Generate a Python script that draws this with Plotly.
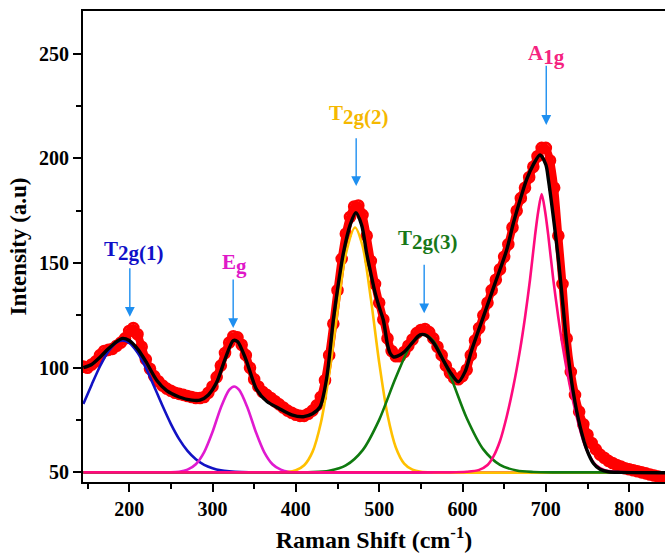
import plotly.graph_objects as go

# ---- measured spectrum (red circles) ----
data_x = [145,150,155,160,165,170,175,180,185,190,195,200,205,210,215,220,225,230,235,240,
          245,250,255,260,265,270,275,280,285,290,295,300,305,310,315,320,325,330,335,340,
          345,350,355,360,365,370,375,380,385,390,395,400,405,410,415,420,425,430,435,440,
          445,450,455,460,465,470,475,480,485,490,495,500,505,510,515,520,525,530,535,540,
          545,550,555,560,565,570,575,580,585,590,595,600,605,610,615,620,625,630,635,640,
          645,650,655,660,665,670,675,680,685,690,695,700,705,710,715,720,725,730,735,740,
          745,750,755,760,765,770,775,780,785,790,795,800,805,810,815,820,825,830,835,840,845]
data_y = [100.5,100,101.5,103,106,108,108.5,109,110.5,112,114,117.5,119,116,110,104,99.5,96,93.5,91.5,
          90,89,88,87.5,87,86.5,86,85.5,85.5,86,88,91,95.5,101,107,112,115,114.5,111,106,
          100,94.5,91,88.5,87,85.5,84,82.5,81,79.5,78.5,77.5,77,77,78,79.5,82,86,94,106,
          121,137,152,164,172,177,177.5,173,163,151,140,131,123,114,108,105.5,105.5,107.5,110.5,113.5,
          116.5,118,118.5,117,114,110,106,101,97.5,95,94.5,96,99,106,113,119,125,131,137,142,
          147,153,159,167,175,181,186,191,196,201,205,205,199,186,163,140,114,98,87,79,
          73,68,64,61,58.5,57,55.5,54.5,53.5,52.8,52,51.5,51,50.5,50,49.5,49,48.5,48,47.5,47]

# ---- cumulative fit (black) ----
fit_x = [145,155,165,175,185,192,200,210,220,233,245,260,275,285,295,305,315,325,330,340,
         353,365,380,395,409,420,429,437,445,451,457,465,472,479,485,490,495,500,505,510,
         513,517,522,530,540,549,556,565,575,585,595,603,611,625,639,653,661,669,677,685,
         693,700,703,709,715,720,725,733,741,749,757,765,775,790,845]
fit_y = [100,101.5,105,109,112.5,114,113,109,103,94,89,86,84.5,84.5,87,93,104,113,112.5,104,
         89.5,84,80.5,77.5,76.6,78,81.3,95,122.8,140,154.6,168,174,168,154.6,145,136,129,122.8,111,
         107,105.2,105.5,107.5,112,115.7,115.5,112,105,98,93.3,98,108.4,124.3,140.3,156.2,169,180,190,197,
         201.6,197,190,172,152,132,112,88,72,61,54.4,51.5,50.3,50,49.8]

# ---- fitted components ----
t2g1_x = [145,155,165,175,185,192,200,210,220,230,240,250,260,270,280,290,300,310,320,335,350,845]
t2g1_y = [82.7,91.9,100.7,107.8,112.1,113,111.8,107.2,99.9,91.0,81.8,73.2,65.9,60.3,56.3,53.6,52.0,51.0,50.5,50.1,50,50]

eg_x = [145,250,260,270,280,290,300,310,320,326,332,342,352,362,372,382,392,410,845]
eg_y = [50,50,50.3,51.3,53.9,59.7,69.3,80.9,89.4,91,89.4,80.9,69.3,59.7,53.9,51.3,50.3,50,50]

t2g2_x = [145,370,390,400,410,420,430,440,450,460,471,480,490,500,510,520,530,540,550,565,845]
t2g2_y = [50,50,50.2,51.0,53.4,59.8,73.6,96.9,126.9,154.3,167,158.3,133.0,102.5,77.5,61.9,54.2,51.3,50.3,50,50]

t2g3_x = [145,400,420,440,460,480,500,520,540,553,565,585,605,625,645,665,685,710,845]
t2g3_y = [50,50,50.1,50.8,53.3,60.5,75.1,95.3,112.3,116,112.8,96.4,76.0,61.0,53.6,50.9,50.2,50,50]

a1g_x = [145,585,605,620,630,637,645,653,661,669,675,681,687,691,695,699,703,709,715,721,
         729,737,745,753,760,770,785,805,845]
a1g_y = [50,50,50.3,51.2,53.5,57.5,65,76.6,91,108.4,124,142,163,175,183,175,163,142,124,108.4,
         91,76.6,65,57.5,53.5,51.2,50.3,50,50]

# ---- peak labels and arrows ----
lab_text = ["T", "E", "T", "T", "A"]
lab_sub = ["2g(1)", "g", "2g(2)", "2g(3)", "1g"]
lab_color = ["#1010C8", "#E018C8", "#F5B800", "#187818", "#F5237F"]
lab_x = [205.6, 325.9, 476.3, 559.1, 700.7]
lab_y = [155.7, 149.5, 220.7, 161.2, 249.6]
arr_x = [200.8, 324.8, 472.4, 554.0, 700.5]
arr_top = [148.2, 142.8, 210.3, 149.9, 245.0]
arr_tip = [124.3, 119.0, 186.8, 126.0, 216.0]

x_ticks = [200, 300, 400, 500, 600, 700, 800]
y_ticks = [50, 100, 150, 200, 250]

FONT = "Liberation Serif"

fig = go.Figure()

fig.add_trace(go.Scatter(
    x=data_x, y=data_y, mode="lines+markers",
    line=dict(color="#FF0000", width=8, shape="spline", smoothing=0.6),
    marker=dict(symbol="circle-open", size=10, color="#FF0000", line=dict(width=2.6, color="#FF0000")),
    showlegend=False, hoverinfo="skip"))

comp = [(t2g1_x, t2g1_y, "#1212C4"), (eg_x, eg_y, "#E01AD0"), (t2g2_x, t2g2_y, "#FFC000"),
        (t2g3_x, t2g3_y, "#0F7A0F"), (a1g_x, a1g_y, "#FF0A7D")]
for cx, cy, col in comp:
    fig.add_trace(go.Scatter(x=cx, y=cy, mode="lines", line=dict(color=col, width=2.6, shape="spline", smoothing=0.8),
                             showlegend=False, hoverinfo="skip"))

fig.add_trace(go.Scatter(x=fit_x, y=fit_y, mode="lines",
                         line=dict(color="black", width=3.4, shape="spline", smoothing=0.8),
                         showlegend=False, hoverinfo="skip"))

for t, s, c, lx, ly in zip(lab_text, lab_sub, lab_color, lab_x, lab_y):
    fig.add_annotation(x=lx, y=ly, xref="x", yref="y", showarrow=False,
                       text=f"<b>{t}<sub><span style='font-size:21px'>{s}</span></sub></b>",
                       font=dict(family=FONT, size=21, color=c), xanchor="center", yanchor="middle")

for ax_, top, tip in zip(arr_x, arr_top, arr_tip):
    fig.add_annotation(x=ax_, y=tip, ax=ax_, ay=top, xref="x", yref="y", axref="x", ayref="y",
                       text="", showarrow=True, arrowhead=2, arrowsize=1.4, arrowwidth=1.4,
                       arrowcolor="#1E8FF0", standoff=0)

fig.update_layout(
    width=665, height=559,
    margin=dict(l=83, r=0, t=11, b=77),
    plot_bgcolor="white", paper_bgcolor="white",
    showlegend=False,
)
fig.update_xaxes(
    range=[144.6, 843], tickmode="array", tickvals=x_ticks, ticktext=[str(v) for v in x_ticks],
    showgrid=False, zeroline=False, showline=True, linewidth=2, linecolor="black", mirror=True,
    ticks="outside", ticklen=8, tickwidth=2, tickcolor="black",
    minor=dict(dtick=50, tick0=0, ticks="outside", ticklen=5, tickwidth=2, tickcolor="black"),
    tickfont=dict(family=FONT, size=20, color="black", weight="bold"),
    title=dict(text="Raman Shift (cm<sup>-1</sup>)", font=dict(family=FONT, size=24, color="black", weight="bold"),
               standoff=12),
)
fig.update_yaxes(
    range=[45.4, 270.4], tickmode="array", tickvals=y_ticks, ticktext=[str(v) for v in y_ticks],
    showgrid=False, zeroline=False, showline=True, linewidth=2, linecolor="black", mirror=False,
    ticks="outside", ticklen=8, tickwidth=2, tickcolor="black",
    minor=dict(dtick=25, tick0=0, ticks="outside", ticklen=5, tickwidth=2, tickcolor="black"),
    tickfont=dict(family=FONT, size=20, color="black", weight="bold"),
    title=dict(text="Intensity (a.u)", font=dict(family=FONT, size=23, color="black", weight="bold"),
               standoff=6),
)

fig.write_html("out.html")
